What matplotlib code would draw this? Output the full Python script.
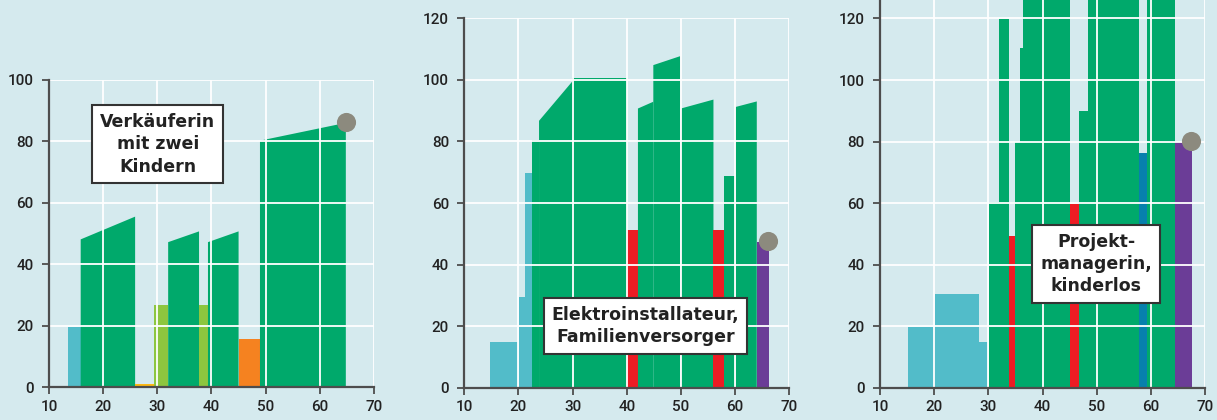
import numpy as np
import matplotlib
matplotlib.use("Agg")
import matplotlib.pyplot as plt

# colours of the career phases
colors = {
    "cyan": "#52bcc9",
    "green": "#00a96b",
    "yellow": "#fdb913",
    "lightgreen": "#8dc63f",
    "orange": "#f58220",
    "red": "#ed1c24",
    "purple": "#6b3d97",
    "blue": "#0780ad",
}
bg = "#d5eaee"
dot_color = "#8c8a7e"

# panel 1: Verkäuferin mit zwei Kindern
p1_start = [13.5, 15.85, 25.9, 29.4, 32.0, 37.7, 39.35, 45.0, 48.95]
p1_end = [15.85, 25.9, 29.4, 32.0, 37.7, 39.35, 45.0, 48.95, 64.8]
p1_top_left = [19.7, 48.1, 1.2, 26.8, 47.2, 26.8, 47.2, 15.8, 80.2]
p1_top_right = [19.7, 55.5, 1.2, 26.8, 50.7, 26.8, 50.7, 15.8, 86.0]
p1_kind = ["cyan", "green", "yellow", "lightgreen", "green", "lightgreen",
           "green", "orange", "green"]
p1_dot = (64.9, 86.2)
p1_label = "Verkäuferin\nmit zwei\nKindern"
p1_label_pos = (30.1, 79.1)

# panel 2: Elektroinstallateur, Familienversorger
p2_start = [14.74, 20.15, 21.2, 22.5, 23.8, 29.9, 40.05, 42.06, 44.9, 50.0,
            56.0, 57.9, 60.1, 64.0]
p2_end = [19.9, 21.2, 22.5, 23.8, 29.9, 40.05, 42.06, 44.9, 49.85, 56.0,
          57.9, 60.0, 64.0, 66.2]
p2_top_left = [14.9, 29.5, 69.8, 80.4, 86.7, 100.5, 51.2, 90.7, 104.8, 90.7,
               51.2, 68.7, 91.2, 47.2]
p2_top_right = [14.9, 29.5, 69.8, 80.4, 99.4, 100.5, 51.2, 92.9, 107.7, 93.6,
                51.2, 68.7, 93.0, 47.2]
p2_kind = ["cyan", "cyan", "cyan", "green", "green", "green", "red", "green",
           "green", "green", "red", "green", "green", "purple"]
p2_dot = (66.1, 47.7)
p2_label = "Elektroinstallateur,\nFamilienversorger"
p2_label_pos = (43.4, 20.1)

# panel 3: Projektmanagerin, kinderlos
p3_start = [15.2, 20.2, 28.3, 30.1, 32.0, 33.75, 34.9, 35.85, 36.4, 45.0,
            46.7, 48.4, 57.8, 59.3, 64.5]
p3_end = [20.2, 28.3, 29.9, 32.0, 33.75, 34.9, 35.85, 36.4, 45.0, 46.7,
          48.4, 57.8, 59.3, 64.5, 67.6]
p3_top = [19.8, 30.4, 14.9, 60.2, 119.7, 49.2, 79.9, 110.3, 135.0, 59.8,
          89.9, 150.0, 76.2, 140.0, 79.9]
p3_kind = ["cyan", "cyan", "cyan", "green", "green", "red", "green", "green",
           "green", "red", "green", "green", "blue", "green", "purple"]
p3_dot = (67.5, 80.2)
p3_label = "Projekt-\nmanagerin,\nkinderlos"
p3_label_pos = (49.9, 40.2)

fig = plt.figure(figsize=(12.17, 4.2), dpi=100)
fig.patch.set_facecolor(bg)

ax1 = fig.add_axes([0.04026, 0.0779, 0.26705, 0.7321])
ax2 = fig.add_axes([0.3815, 0.0769, 0.26705, 0.8795])
ax3 = fig.add_axes([0.7231, 0.0769, 0.26705, 0.9231])


def draw_panel(ax, start, end, top_l, top_r, kind, dot, label, label_pos,
               ytop, yticks):
    ax.set_facecolor(bg)
    for x0, x1, ya, yb, k in zip(start, end, top_l, top_r, kind):
        ax.fill([x0, x0, x1, x1], [0, ya, yb, 0], color=colors[k], lw=0,
                zorder=1)
    ax.scatter([dot[0]], [dot[1]], s=190, color=dot_color, zorder=6,
               clip_on=False, linewidths=0)
    ax.text(label_pos[0], label_pos[1], label, ha="center", va="center",
            fontsize=12.5, fontweight="bold", family="DejaVu Sans",
            color="#222222", zorder=7, linespacing=1.32,
            bbox=dict(boxstyle="square,pad=0.45", fc="white", ec="#333333",
                      lw=1.5))
    ax.set_xlim(10, 70)
    ax.set_ylim(0, ytop)
    ax.set_xticks(np.arange(10, 71, 10))
    ax.set_yticks(yticks)
    ax.set_axisbelow(False)
    ax.grid(True, color="white", lw=1.3, zorder=3)
    for s in ["top", "right"]:
        ax.spines[s].set_visible(False)
    for s in ["left", "bottom"]:
        ax.spines[s].set_color("#4d4d4d")
        ax.spines[s].set_linewidth(1.6)
        ax.spines[s].set_zorder(4)
    ax.tick_params(axis="both", colors="#4d4d4d", length=5, width=1.3,
                   labelcolor="#222222", labelsize=11)
    ax.tick_params(axis="y", pad=6)
    ax.tick_params(axis="x", pad=4)
    for lab in ax.get_xticklabels() + ax.get_yticklabels():
        lab.set_family("Roboto")
        lab.set_fontweight("medium")


draw_panel(ax1, p1_start, p1_end, p1_top_left, p1_top_right, p1_kind,
           p1_dot, p1_label, p1_label_pos, 100, np.arange(0, 101, 20))
draw_panel(ax2, p2_start, p2_end, p2_top_left, p2_top_right, p2_kind,
           p2_dot, p2_label, p2_label_pos, 120, np.arange(0, 121, 20))
draw_panel(ax3, p3_start, p3_end, p3_top, p3_top, p3_kind,
           p3_dot, p3_label, p3_label_pos, 126, np.arange(0, 121, 20))

fig.savefig("out.png", dpi=100, facecolor=bg)
